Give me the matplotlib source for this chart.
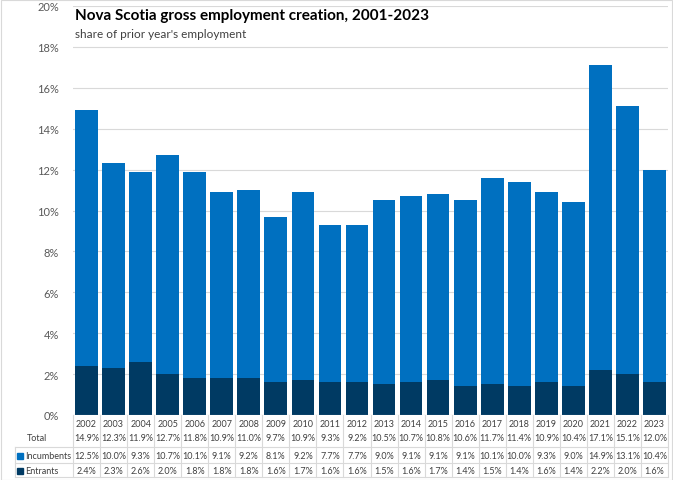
import matplotlib.pyplot as plt
import matplotlib.patches as mpatches

years = [str(y) for y in range(2002, 2024)]
incumbents = [12.5, 10.0, 9.3, 10.7, 10.1, 9.1, 9.2, 8.1, 9.2, 7.7, 7.7, 9.0, 9.1, 9.1, 9.1, 10.1, 10.0, 9.3, 9.0, 14.9, 13.1, 10.4]
entrants = [2.4, 2.3, 2.6, 2.0, 1.8, 1.8, 1.8, 1.6, 1.7, 1.6, 1.6, 1.5, 1.6, 1.7, 1.4, 1.5, 1.4, 1.6, 1.4, 2.2, 2.0, 1.6]
total = [14.9, 12.3, 11.9, 12.7, 11.8, 10.9, 11.0, 9.7, 10.9, 9.3, 9.2, 10.5, 10.7, 10.8, 10.6, 11.7, 11.4, 10.9, 10.4, 17.1, 15.1, 12.0]

BLUE = "#0070C0"
NAVY = "#003A63"
GRID = "#D9D9D9"
TXT = "#404040"

plt.rcParams['font.family'] = ['Lato', 'DejaVu Sans']

W, H = 673, 481
fig = plt.figure(figsize=(W / 100, H / 100), dpi=100)
# plot area in pixels: x 73..668, y 7..416
ax = fig.add_axes([73 / W, (H - 416) / H, (668 - 73) / W, (416 - 7) / H])

x = list(range(len(years)))
ax.bar(x, entrants, width=0.84, color=NAVY, zorder=3)
ax.bar(x, incumbents, width=0.84, bottom=entrants, color=BLUE, zorder=3)

ax.set_xlim(-0.5, len(years) - 0.5)
ax.set_ylim(0, 20)
ax.set_yticks(range(0, 21, 2))
ax.set_yticklabels([f"{v}%" for v in range(0, 21, 2)], fontsize=8, color="#595959")
ax.yaxis.grid(True, color=GRID, lw=0.8, zorder=0)
ax.tick_params(axis="y", length=0, pad=10)
ax.set_xticks([])
for s in ax.spines.values():
    s.set_visible(False)
ax.axhline(0, color=GRID, lw=0.8, zorder=4)

# title block
fig.text(75 / W, 1 - 16 / H, "Nova Scotia gross employment creation, 2001-2023",
         fontsize=11, fontweight="bold", color="black", va="center", ha="left")
fig.text(75 / W, 1 - 34 / H, "share of prior year's employment",
         fontsize=8.5, color=TXT, va="center", ha="left")

# data table below the axes
tr = ax.get_xaxis_transform()


def ay(py):
    return (416 - py) / 409


def dx(px):
    return -0.5 + (px - 73) / ((668 - 73) / len(years))


rows = [
    (425, years),
    (439, [f"{v:.1f}%" for v in total]),
    (457, [f"{v:.1f}%" for v in incumbents]),
    (472, [f"{v:.1f}%" for v in entrants]),
]
for py, vals in rows:
    for i, v in enumerate(vals):
        ax.text(i, ay(py), v, transform=tr, ha="center", va="center",
                fontsize=6.5, color=TXT, clip_on=False)

# column separators
for i in range(len(years) + 1):
    ax.plot([i - 0.5, i - 0.5], [ay(416), ay(478)], transform=tr,
            color=GRID, lw=0.8, clip_on=False)
# row separators
for py in [448, 464, 478]:
    ax.plot([dx(15), len(years) - 0.5], [ay(py), ay(py)], transform=tr,
            color=GRID, lw=0.8, clip_on=False)
ax.plot([dx(15), dx(15)], [ay(448), ay(478)], transform=tr,
        color=GRID, lw=0.8, clip_on=False)

# row labels
ax.text(dx(27), ay(439), "Total", transform=tr, ha="left", va="center",
        fontsize=6.5, color=TXT, clip_on=False)
for py, lab, col in [(457, "Incumbents", BLUE), (472, "Entrants", NAVY)]:
    ax.add_patch(mpatches.Rectangle((dx(17), ay(py) - 0.008), dx(23) - dx(17), 0.016,
                                    transform=tr, color=col, clip_on=False))
    ax.text(dx(25), ay(py), lab, transform=tr, ha="left", va="center",
            fontsize=6.5, color=TXT, clip_on=False)

# chart border
fig.patches.append(mpatches.Rectangle((0.5 / W, 0.5 / H), 1 - 1.5 / W, 1 - 1.5 / H,
                                      transform=fig.transFigure, fill=False,
                                      edgecolor=GRID, lw=0.8))

fig.savefig("out.png", dpi=100)
